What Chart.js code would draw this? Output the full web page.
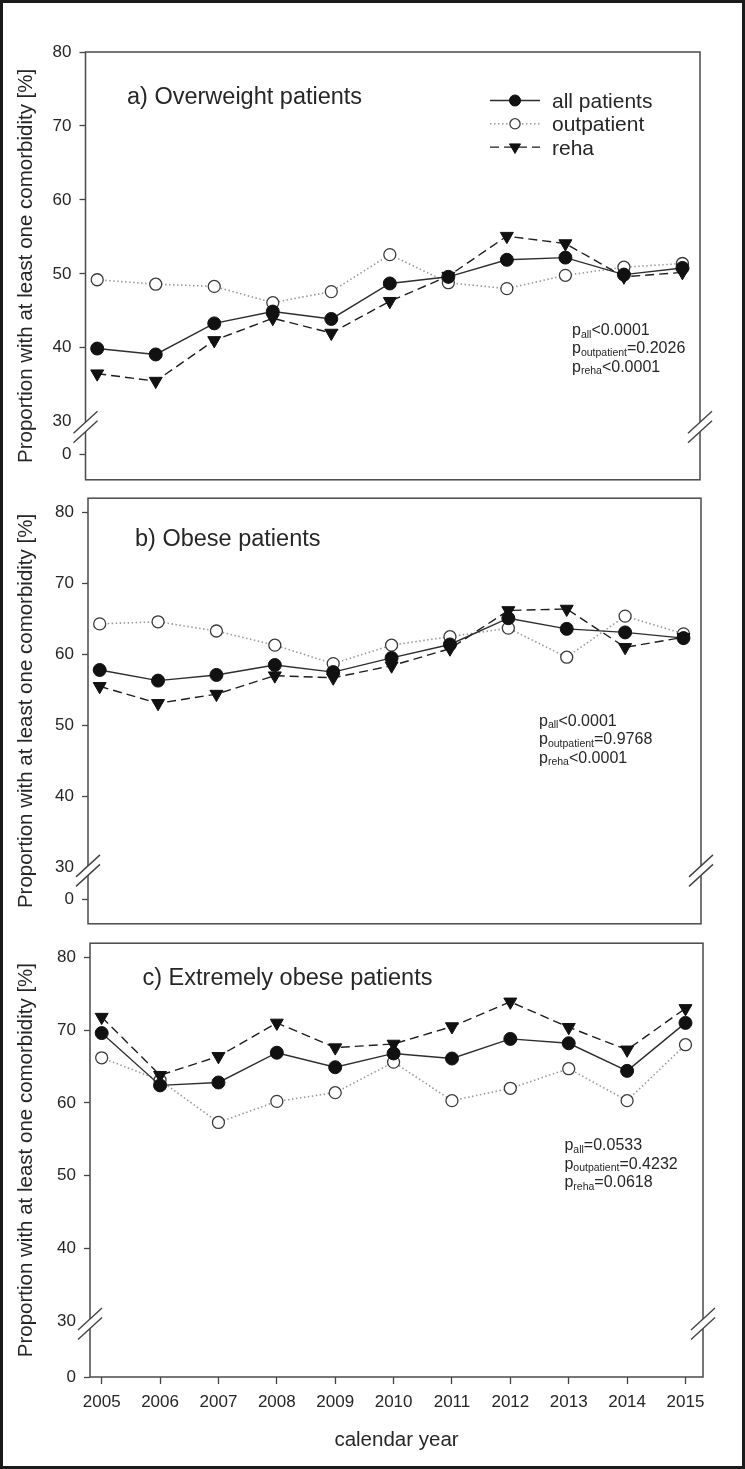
<!DOCTYPE html>
<html>
<head>
<meta charset="utf-8">
<title>Comorbidity trends</title>
<script src="https://cdn.jsdelivr.net/npm/chart.js@4.4.1/dist/chart.umd.min.js"></script>
<style>
  html, body { margin: 0; padding: 0; background: #fff; }
  #frame {
    position: absolute; left: 0; top: 0;
    width: 745px; height: 1469px;
    box-sizing: border-box;
    border: 3px solid #1b1b1b;
    background: #fff;
  }
  canvas { position: absolute; left: 0; }
</style>
</head>
<body>
<div id="frame"></div>
<canvas id="panelA" style="top:0px" width="745" height="498"></canvas>
<canvas id="panelB" style="top:480px" width="745" height="462"></canvas>
<canvas id="panelC" style="top:925px" width="745" height="544"></canvas>

<script>
// ---------- DADOS ----------
const years = [2005, 2006, 2007, 2008, 2009, 2010, 2011, 2012, 2013, 2014, 2015];
const yTickLabels = [0, 30, 40, 50, 60, 70, 80];
const seriesNames = ['all patients', 'outpatient', 'reha'];

const overweightAll  = [39.9, 39.1, 43.3, 44.9, 43.9, 48.7, 49.6, 51.9, 52.2, 49.9, 50.8];
const overweightOut  = [49.2, 48.6, 48.3, 46.1, 47.6, 52.6, 48.8, 48.0, 49.8, 50.9, 51.4];
const overweightReha = [36.5, 35.5, 41.0, 44.0, 42.0, 46.3, 49.7, 55.1, 54.1, 49.6, 50.2];

const obeseAll  = [57.8, 56.3, 57.1, 58.5, 57.5, 59.5, 61.4, 65.1, 63.6, 63.1, 62.3];
const obeseOut  = [64.3, 64.6, 63.3, 61.3, 58.7, 61.3, 62.5, 63.7, 59.6, 65.4, 62.9];
const obeseReha = [55.5, 53.1, 54.4, 57.0, 56.7, 58.4, 60.8, 66.2, 66.4, 61.0, 62.4];

const extremeAll  = [69.6, 62.4, 62.8, 66.9, 64.9, 66.8, 66.1, 68.8, 68.2, 64.4, 71.0];
const extremeOut  = [66.2, 63.1, 57.3, 60.2, 61.4, 65.6, 60.3, 62.0, 64.7, 60.3, 68.0];
const extremeReha = [71.8, 63.8, 66.4, 71.0, 67.6, 68.1, 70.5, 73.9, 70.4, 67.3, 73.0];

const panelTitles = ['a) Overweight patients', 'b) Obese patients', 'c) Extremely obese patients'];
const pOverweight = [['all', '<0.0001'], ['outpatient', '=0.2026'], ['reha', '<0.0001']];
const pObese      = [['all', '<0.0001'], ['outpatient', '=0.9768'], ['reha', '<0.0001']];
const pExtreme    = [['all', '=0.0533'], ['outpatient', '=0.4232'], ['reha', '=0.0618']];

const yTitle = 'Proportion with at least one comorbidity [%]';
const xTitle = 'calendar year';

// ---------- ESTILO ----------
const FONT = '"Liberation Sans", Arial, Helvetica, sans-serif';
const TEXT = '#262626';
const AXIS = '#4a4a4a';

function pts(vals) {
    return years.map((yr, i) => ({ x: yr, y: vals[i] }));
}

function gerarSeries(all, out, reha) {
    return [
        {
            label: seriesNames[0], data: pts(all), order: 0,
            borderColor: '#2e2e2e', borderWidth: 1.4, tension: 0, fill: false,
            pointStyle: 'circle', pointRadius: 6.5, pointHoverRadius: 6.5,
            pointBackgroundColor: '#111', pointBorderColor: '#111', pointBorderWidth: 1
        },
        {
            label: seriesNames[1], data: pts(out), order: 2,
            borderColor: '#9a9a9a', borderWidth: 1.6, borderDash: [1.5, 2.5], tension: 0, fill: false,
            pointStyle: 'circle', pointRadius: 6, pointHoverRadius: 6,
            pointBackgroundColor: '#fff', pointBorderColor: '#3a3a3a', pointBorderWidth: 1.3
        },
        {
            label: seriesNames[2], data: pts(reha), order: 1,
            borderColor: '#1e1e1e', borderWidth: 1.4, borderDash: [9, 5], tension: 0, fill: false,
            pointStyle: 'triangle', pointRotation: 180, pointRadius: 7.5, pointHoverRadius: 7.5,
            pointBackgroundColor: '#111', pointBorderColor: '#111', pointBorderWidth: 1
        }
    ];
}

function desenharMarcador(ctx, ds, x, y, k) {
    const r = ds.pointRadius * k;
    ctx.setLineDash([]);
    ctx.fillStyle = ds.pointBackgroundColor;
    ctx.strokeStyle = ds.pointBorderColor;
    ctx.lineWidth = ds.pointBorderWidth;
    ctx.beginPath();
    if (ds.pointStyle === 'triangle') {
        let rad = Math.PI; // apontando para baixo
        for (let i = 0; i < 3; i++) {
            const px = x + Math.sin(rad) * r, py = y - Math.cos(rad) * r;
            if (i === 0) ctx.moveTo(px, py); else ctx.lineTo(px, py);
            rad += 2 * Math.PI / 3;
        }
        ctx.closePath();
    } else {
        ctx.arc(x, y, r, 0, Math.PI * 2);
    }
    ctx.fill();
    ctx.stroke();
}

function decoracao(cfg) {
    return {
        id: 'deco',
        afterDraw(chart) {
            const { ctx, chartArea: a, scales } = chart;
            const y = scales.y;
            ctx.save();

            // moldura
            ctx.setLineDash([]);
            ctx.strokeStyle = AXIS;
            ctx.lineWidth = 1.5;
            ctx.strokeRect(a.left, a.top, a.right - a.left, a.bottom - a.top);

            // quebra do eixo
            const yb = y.getPixelForValue(cfg.breakAt);
            [a.left, a.right].forEach(x => {
                ctx.fillStyle = '#fff';
                ctx.beginPath();
                ctx.moveTo(x - 12, yb - 4.75 + 11);
                ctx.lineTo(x + 12, yb - 4.75 - 11);
                ctx.lineTo(x + 12, yb + 4.75 - 11);
                ctx.lineTo(x - 12, yb + 4.75 + 11);
                ctx.closePath();
                ctx.fill();
                ctx.beginPath();
                [-4.75, 4.75].forEach(d => {
                    ctx.moveTo(x - 12, yb + d + 11);
                    ctx.lineTo(x + 12, yb + d - 11);
                });
                ctx.strokeStyle = '#444';
                ctx.lineWidth = 1.4;
                ctx.stroke();
            });

            // titulo do painel
            ctx.fillStyle = TEXT;
            ctx.textBaseline = 'alphabetic';
            ctx.textAlign = 'left';
            ctx.font = '23.5px ' + FONT;
            ctx.fillText(cfg.title, a.left + cfg.titlePos[0], a.top + cfg.titlePos[1]);

            // valores p
            cfg.pvals.forEach((row, i) => {
                let x = a.left + cfg.pPos[0];
                const base = a.top + cfg.pPos[1] + i * 18.4;
                ctx.font = '16px ' + FONT;
                ctx.fillText('p', x, base);
                x += ctx.measureText('p').width;
                ctx.font = '10.5px ' + FONT;
                ctx.fillText(row[0], x, base + 2.5);
                x += ctx.measureText(row[0]).width;
                ctx.font = '16px ' + FONT;
                ctx.fillText(row[1], x, base);
            });

            // legenda
            if (cfg.legend) {
                const ordem = [0, 1, 2];
                ordem.forEach((idx, i) => {
                    const ds = chart.data.datasets[idx];
                    const my = a.top + cfg.legend[1] + i * 23.3;
                    const lx = a.left + cfg.legend[0];
                    ctx.beginPath();
                    ctx.setLineDash(ds.borderDash || []);
                    ctx.strokeStyle = ds.borderColor;
                    ctx.lineWidth = ds.borderWidth;
                    ctx.moveTo(lx, my);
                    ctx.lineTo(lx + 50, my);
                    ctx.stroke();
                    desenharMarcador(ctx, ds, lx + 25, my, 0.85);
                    ctx.fillStyle = TEXT;
                    ctx.font = '21px ' + FONT;
                    ctx.fillText(ds.label, lx + 62, my + 7.5);
                });
            }
            ctx.restore();
        }
    };
}

function criarPainel(id, cfg) {
    const xScale = {
        type: 'linear',
        min: 2004.8,
        max: 2015.3,
        display: cfg.showX
    };
    if (cfg.showX) {
        Object.assign(xScale, {
            position: 'bottom',
            afterBuildTicks: s => { s.ticks = years.map(v => ({ value: v })); },
            afterFit: s => { s.height = 92; },
            ticks: {
                autoSkip: false, maxRotation: 0, minRotation: 0,
                color: TEXT, padding: 8,
                font: { family: FONT, size: 17 },
                callback: (v, i) => String(years[i])
            },
            grid: { drawOnChartArea: false, drawTicks: true, tickLength: 7, tickColor: '#444', tickWidth: 1.3 },
            border: { display: false },
            title: {
                display: true, text: xTitle, color: TEXT,
                font: { family: FONT, size: 20.5 },
                padding: { top: 0, bottom: 16.7 }
            }
        });
    }

    return new Chart(document.getElementById(id), {
        type: 'line',
        data: { datasets: gerarSeries(...cfg.series) },
        options: {
            responsive: false,
            animation: false,
            events: [],
            layout: { padding: cfg.padding },
            plugins: { legend: { display: false }, tooltip: { enabled: false } },
            scales: {
                x: xScale,
                y: {
                    type: 'linear',
                    min: cfg.yMin,
                    max: cfg.yMax,
                    afterBuildTicks: s => {
                        s.ticks = yTickLabels.map(v => ({ value: v === 0 ? cfg.zeroAt : v }));
                    },
                    afterFit: s => { s.width = cfg.axisWidth; },
                    ticks: {
                        autoSkip: false, color: TEXT, padding: 8,
                        font: { family: FONT, size: 17 },
                        callback: (v, i) => String(yTickLabels[i])
                    },
                    grid: {
                        drawOnChartArea: false, drawTicks: true, tickLength: 6, tickWidth: 1.3,
                        tickColor: c => (c.tick && c.tick.value === 30) ? 'rgba(0,0,0,0)' : '#444'
                    },
                    border: { display: false },
                    title: {
                        display: true, text: yTitle, color: TEXT,
                        font: { family: FONT, size: 20.5 },
                        padding: { top: 13.7, bottom: 0 }
                    }
                }
            }
        },
        plugins: [decoracao(cfg)]
    });
}

criarPainel('panelA', {
    series: [overweightAll, overweightOut, overweightReha],
    yMin: 22.15, yMax: 80, zeroAt: 25.55, breakAt: 29.3,
    axisWidth: 85.5, padding: { top: 52, bottom: 4, left: 0, right: 45 },
    showX: false,
    title: panelTitles[0], titlePos: [41.5, 52],
    pvals: pOverweight, pPos: [486.5, 283],
    legend: [404.5, 48.5]
});

criarPainel('panelB', {
    series: [obeseAll, obeseOut, obeseReha],
    yMin: 22.0, yMax: 82.03, zeroAt: 25.4, breakAt: 29.5,
    axisWidth: 88, padding: { top: 14, bottom: 5, left: 0, right: 44 },
    showX: false,
    title: panelTitles[1], titlePos: [47, 47.5],
    pvals: pObese, pPos: [451, 227.7]
});

criarPainel('panelC', {
    series: [extremeAll, extremeOut, extremeReha],
    yMin: 22.27, yMax: 81.97, zeroAt: 22.27, breakAt: 29.6,
    axisWidth: 90, padding: { top: 12, bottom: 0, left: 0, right: 42 },
    showX: true,
    title: panelTitles[2], titlePos: [52.5, 42],
    pvals: pExtreme, pPos: [474.4, 207]
});
</script>
</body>
</html>
